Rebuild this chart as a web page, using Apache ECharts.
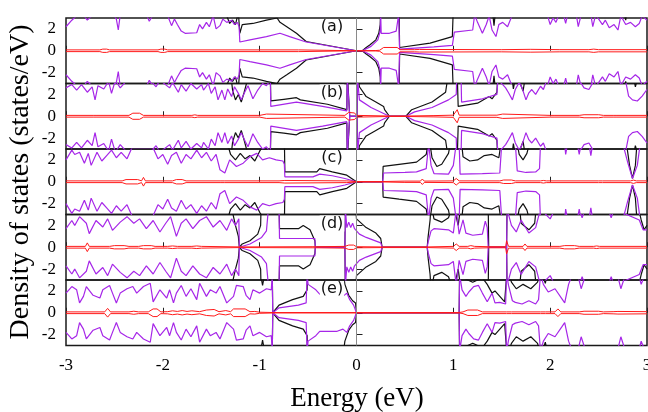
<!DOCTYPE html>
<html>
<head>
<meta charset="utf-8">
<title>DOS panels</title>
<style>
  html, body { margin: 0; padding: 0; background: #fff; }
  #chart { width: 648px; height: 412px; }
</style>
</head>
<body>
<div id="chart"></div>
<script src="https://cdn.jsdelivr.net/npm/echarts@6/dist/echarts.min.js"></script>
<script>
// spin-up halves [energy (eV), DOS]; spin-down is drawn as the mirror image
const A_BLACK = [[-3,4],[-1.4,4],[-1.34,3.2],[-1.31,2.5],[-1.28,2.8],[-1.25,2.4],[-1.22,3.5],[-1.212,3.5],[-1.205,1.6],[-1.18,2.4],[-1.07,2.5],[-0.93,2.8],[-0.82,3.0],[-0.79,2.6],[-0.72,2.2],[-0.62,1.6],[-0.52,0.85],[0,0],[0.06,0],[0.1,0.3],[0.14,0.55],[0.2,1.0],[0.23,1.6],[0.245,2.4],[0.25,4],[0.44,4],[0.445,0.3],[0.76,0.7],[0.99,1.3],[1.0,4],[1.4,4],[1.42,2.3],[1.44,4],[2.75,4],[2.78,2.8],[2.8,4],[3,4]];
const A_PURPLE = [[-3,2.2],[-2.98,2.2],[-2.94,2.8],[-2.89,3.2],[-2.84,3.5],[-2.78,2.8],[-2.72,3.3],[-2.65,3.4],[-2.51,3.3],[-2.48,2.9],[-2.46,1.9],[-2.44,3.3],[-2.17,3.3],[-2.14,2.7],[-2.1,3.3],[-1.95,3.2],[-1.91,2.3],[-1.88,2.9],[-1.85,2.4],[-1.81,1.8],[-1.77,1.6],[-1.65,1.65],[-1.62,2.4],[-1.59,2.0],[-1.55,2.6],[-1.52,2.2],[-1.48,3.2],[-1.45,2.0],[-1.41,2.3],[-1.38,2.9],[-1.34,2.6],[-1.29,2.8],[-1.26,2.4],[-1.23,2.6],[-1.212,2.2],[-1.205,0.8],[-1.1,1.0],[-0.93,1.3],[-0.79,1.6],[-0.69,1.3],[-0.52,0.8],[0,0],[0.06,0],[0.15,0.4],[0.22,1.0],[0.245,1.8],[0.25,3.3],[0.255,1.6],[0.34,1.6],[0.41,1.8],[0.435,3.3],[0.445,0.15],[0.8,0.35],[0.99,0.5],[1.01,1.7],[1.2,1.9],[1.22,3.3],[1.25,2.6],[1.3,1.6],[1.34,2.4],[1.37,3.2],[1.4,1.9],[1.44,1.3],[1.47,2.4],[1.51,2.6],[1.56,2.2],[1.61,3.3],[1.97,3.3],[2.0,2.4],[2.03,3.0],[2.06,2.6],[2.09,3.3],[2.14,3.2],[2.16,2.5],[2.18,3.3],[2.27,3.3],[2.29,2.2],[2.32,3.3],[2.42,3.3],[2.44,2.2],[2.47,3.3],[2.54,2.4],[2.57,2.8],[2.61,2.1],[2.66,2.4],[2.7,1.9],[2.73,3.2],[2.78,2.4],[2.83,2.6],[2.88,2.2],[2.92,2.5],[2.95,3.2],[3,2.8]];
const A_RED = [[-3,0.08],[-2.65,0.08],[-2.62,0.15],[-2.58,0.15],[-2.55,0.08],[-2.05,0.08],[-2.02,0.15],[-1.98,0.15],[-1.95,0.08],[-0.6,0.08],[0,0],[0.2,0.02],[0.24,0.05],[0.28,0.3],[0.42,0.3],[0.45,0.1],[0.6,0.1],[0.65,0.12],[1.5,0.1],[1.8,0.13],[2.1,0.1],[2.4,0.1],[2.45,0.15],[2.5,0.1],[3,0.1]];

const B_BLACK = [[-3,4],[-1.3,4],[-1.28,2.4],[-1.25,1.5],[-1.22,2.0],[-1.19,1.3],[-1.16,2.2],[-1.13,3.2],[-1.1,4],[-0.89,4],[-0.885,1.4],[-0.75,1.55],[-0.62,1.7],[-0.58,1.5],[-0.3,1.1],[-0.1,0.6],[-0.095,4],[-0.075,4],[-0.07,0],[0.005,0],[0.01,4],[0.03,2.7],[0.1,1.8],[0.2,1.3],[0.28,0.9],[0.29,0.6],[0.34,0],[0.51,0],[0.57,0.6],[0.78,1.3],[0.92,2.2],[0.95,4],[1.04,4],[1.05,0.9],[1.25,1.2],[1.37,1.8],[1.4,1.6],[1.45,2.2],[1.46,4],[1.6,4],[1.62,2.5],[1.65,4],[1.72,2.3],[1.75,4],[2.85,4],[2.88,2.7],[2.92,4],[3,4]];
const B_PURPLE = [[-3,2.6],[-2.98,2.6],[-2.94,2.9],[-2.89,2.4],[-2.84,2.9],[-2.78,2.2],[-2.73,2.7],[-2.7,1.5],[-2.67,2.8],[-2.61,2.5],[-2.56,3.2],[-2.53,2.1],[-2.49,3.3],[-2.44,2.6],[-2.37,3.3],[-2.13,3.3],[-2.07,2.7],[-2.03,3.3],[-1.93,2.6],[-1.9,3.1],[-1.84,2.2],[-1.81,2.9],[-1.76,2.3],[-1.71,3.0],[-1.65,2.5],[-1.6,2.9],[-1.58,2.4],[-1.53,3.0],[-1.5,2.1],[-1.46,2.7],[-1.43,1.5],[-1.39,2.4],[-1.36,1.5],[-1.33,2.5],[-1.29,1.8],[-1.26,2.7],[-1.22,2.1],[-1.19,1.5],[-1.15,2.3],[-1.12,2.8],[-1.07,1.6],[-1.02,2.4],[-0.97,3.0],[-0.93,2.8],[-0.89,3.3],[-0.885,0.9],[-0.62,1.3],[-0.35,0.9],[-0.1,0.5],[-0.095,3.5],[-0.075,3.5],[-0.07,0],[0.005,0],[0.01,3.5],[0.03,1.5],[0.15,0.8],[0.34,0],[0.51,0],[0.6,0.4],[0.78,0.8],[0.95,1.5],[1.03,2.0],[1.035,3.5],[1.08,3.5],[1.085,1.3],[1.3,1.6],[1.45,2.0],[1.46,3.3],[1.51,2.9],[1.54,2.6],[1.57,2.15],[1.61,1.5],[1.64,2.45],[1.68,3.1],[1.71,2.6],[1.75,1.5],[1.78,2.15],[1.81,2.45],[1.85,2.0],[1.9,2.75],[1.93,2.45],[1.96,3.2],[2.3,3.3],[2.35,2.6],[2.4,2.45],[2.45,3.2],[2.78,3.2],[2.81,1.85],[2.85,1.5],[2.9,1.4],[2.95,1.85],[3,2.45]];
const B_RED = [[-3,0.08],[-2.72,0.08],[-2.7,0.15],[-2.68,0.08],[-2.35,0.08],[-2.31,0.28],[-2.24,0.28],[-2.2,0.08],[-1.7,0.08],[-1.67,0.13],[-1.64,0.08],[-1.0,0.08],[-0.98,0.2],[-0.93,0.2],[-0.91,0.08],[-0.12,0.08],[-0.08,0.35],[-0.02,0.3],[0,0.08],[0.35,0.02],[0.5,0.02],[0.8,0.06],[1.0,0.1],[1.04,0.6],[1.06,0.1],[1.45,0.1],[1.47,0.2],[1.51,0.2],[1.53,0.1],[2.0,0.08],[2.02,0.15],[2.04,0.08],[2.3,0.08],[2.35,0.14],[2.5,0.14],[2.55,0.08],[2.65,0.08],[2.67,0.15],[2.69,0.08],[3,0.08]];

const C_BLACK = [[-3,4],[-1.35,4],[-1.3,2.5],[-1.25,2.0],[-1.2,2.6],[-1.15,2.1],[-1.1,2.4],[-1.05,1.9],[-1.0,2.8],[-0.95,3.5],[-0.745,4],[-0.74,0.9],[-0.41,0.9],[-0.38,1.2],[-0.25,0.9],[-0.1,0.6],[0,0],[0.27,0],[0.275,1.4],[0.44,1.6],[0.62,1.8],[0.72,2.5],[0.75,4],[0.78,2.2],[0.83,1.4],[0.88,1.6],[0.95,2.6],[0.98,4],[1.08,4],[1.1,2.3],[1.17,1.9],[1.25,2.0],[1.32,2.4],[1.4,2.5],[1.47,2.2],[1.5,4],[1.65,4],[1.68,2.5],[1.72,2.0],[1.76,2.6],[1.8,4],[2.78,4],[2.82,1.5],[2.85,0.3],[2.88,1.5],[2.9,4],[3,4]];
const C_PURPLE = [[-3,2.0],[-2.98,2.0],[-2.94,2.9],[-2.91,2.5],[-2.86,2.7],[-2.81,1.7],[-2.77,2.6],[-2.74,1.5],[-2.68,2.7],[-2.63,1.9],[-2.58,2.4],[-2.53,2.9],[-2.48,2.2],[-2.43,2.7],[-2.37,2.1],[-2.32,3.1],[-2.1,3.1],[-2.05,2.1],[-2.0,2.5],[-1.95,1.6],[-1.91,2.4],[-1.86,2.7],[-1.81,1.7],[-1.76,2.5],[-1.71,2.1],[-1.65,2.9],[-1.6,2.2],[-1.55,2.7],[-1.5,1.9],[-1.45,2.5],[-1.41,1.1],[-1.36,0.8],[-1.31,2.0],[-1.24,1.4],[-1.17,1.7],[-1.1,2.3],[-1.03,2.6],[-0.97,2.0],[-0.9,2.2],[-0.83,2.0],[-0.76,1.9],[-0.745,1.6],[-0.74,0.45],[-0.45,0.45],[-0.38,0.7],[-0.25,0.55],[-0.12,0.3],[0,0],[0.27,0],[0.28,0.8],[0.5,0.85],[0.62,0.9],[0.72,1.2],[0.745,3.5],[0.77,1.5],[0.8,0.75],[0.95,0.7],[1.0,1.5],[1.03,3.5],[1.06,3.5],[1.07,0.7],[1.3,0.75],[1.48,0.8],[1.5,3.5],[1.64,3.5],[1.66,1.0],[1.75,0.85],[1.85,0.9],[1.89,1.2],[1.9,3.5],[2.15,3.5],[2.16,2.5],[2.18,3.5],[2.28,3.5],[2.3,2.5],[2.32,3.5],[2.4,3.5],[2.42,2.4],[2.44,3.5],[2.75,3.5],[2.8,1.8],[2.85,0.3],[2.9,1.5],[2.93,3.5],[3,3.5]];
const C_RED = [[-3,0.08],[-2.42,0.08],[-2.38,0.2],[-2.26,0.2],[-2.22,0.08],[-2.2,0.4],[-2.18,0.08],[-1.9,0.08],[-1.86,0.2],[-1.8,0.2],[-1.76,0.08],[-1.4,0.08],[-1.38,0.12],[-1.36,0.08],[-0.8,0.08],[-0.74,0.12],[-0.1,0.08],[0,0.02],[0.27,0.02],[0.5,0.06],[0.66,0.06],[0.68,0.25],[0.7,0.06],[1.0,0.08],[1.03,0.3],[1.06,0.08],[1.48,0.08],[1.52,0.16],[1.6,0.16],[1.64,0.08],[1.9,0.08],[1.93,0.12],[1.96,0.08],[2.5,0.08],[2.52,0.12],[2.54,0.08],[2.83,0.08],[2.86,0.15],[2.89,0.08],[3,0.08]];

const D_BLACK = [[-3,4],[-1.3,4],[-1.25,2.0],[-1.22,1.0],[-1.21,0],[-1.18,0.3],[-1.1,0.6],[-1.02,1.2],[-0.99,2.0],[-0.985,4],[-0.8,4],[-0.795,1.7],[-0.6,1.7],[-0.55,2.0],[-0.48,1.6],[-0.43,0.6],[-0.425,0],[-0.12,0],[-0.115,4],[-0.01,4],[0,2.6],[0.1,1.8],[0.2,1.3],[0.25,0.8],[0.265,0],[0.73,0],[0.74,1.0],[0.76,2.5],[0.77,4],[0.8,2.6],[0.88,2.3],[0.95,2.7],[1.0,4],[1.05,2.0],[1.08,4],[1.36,4],[1.365,0],[1.55,0],[1.555,4],[1.68,4],[1.7,2.2],[1.78,1.6],[1.84,2.2],[1.86,4],[2.9,4],[2.94,2.5],[2.97,1.6],[3,2.0]];
const D_PURPLE = [[-3,1.7],[-2.98,1.7],[-2.94,2.45],[-2.91,2.0],[-2.86,2.8],[-2.79,2.2],[-2.76,1.25],[-2.69,2.45],[-2.62,1.85],[-2.57,2.6],[-2.52,1.55],[-2.44,2.3],[-2.37,2.8],[-2.3,2.2],[-2.24,2.6],[-2.17,1.7],[-2.1,2.45],[-2.03,1.4],[-1.97,2.2],[-1.92,2.8],[-1.86,1.0],[-1.81,2.2],[-1.76,2.6],[-1.69,1.7],[-1.62,2.45],[-1.55,2.8],[-1.48,1.85],[-1.41,2.45],[-1.34,1.55],[-1.29,2.6],[-1.25,2.0],[-1.215,2.6],[-1.21,0],[-1.1,0.3],[-0.98,0.9],[-0.93,1.5],[-0.91,3.5],[-0.8,3.5],[-0.795,0.8],[-0.43,0.8],[-0.425,0],[-0.12,0],[-0.115,3.5],[-0.1,1.8],[-0.08,2.3],[-0.06,1.8],[-0.04,2.2],[-0.02,1.7],[0.03,1.2],[0.1,0.9],[0.25,0.4],[0.265,0],[0.73,0],[0.74,0.5],[0.77,1.5],[0.8,1.7],[0.95,1.6],[1.0,1.3],[1.03,3.5],[1.06,1.2],[1.1,2.5],[1.13,1.3],[1.2,1.1],[1.3,1.2],[1.33,2.4],[1.35,1.8],[1.36,0],[1.55,0],[1.555,3.5],[1.6,2.0],[1.65,1.4],[1.7,2.5],[1.78,1.3],[1.85,1.8],[1.9,3.5],[2.0,2.6],[2.05,3.5],[2.3,3.5],[2.33,2.7],[2.36,3.5],[2.6,3.5],[2.63,2.7],[2.66,3.5],[2.92,2.5],[2.96,1.6],[3,1.6]];
const D_RED = [[-3,0.08],[-2.8,0.08],[-2.78,0.4],[-2.76,0.08],[-2.55,0.08],[-2.5,0.15],[-2.4,0.15],[-2.35,0.08],[-2.25,0.08],[-2.2,0.15],[-2.12,0.15],[-2.08,0.08],[-1.95,0.08],[-1.9,0.12],[-1.85,0.08],[-1.7,0.08],[-1.65,0.12],[-1.6,0.08],[-1.2,0.03],[-0.45,0.05],[-0.43,0.2],[-0.41,0.05],[-0.12,0.08],[-0.08,0.2],[-0.03,0.2],[0,0.05],[0.27,0.03],[0.73,0.03],[1.0,0.08],[1.03,0.3],[1.06,0.08],[1.15,0.08],[1.18,0.15],[1.22,0.08],[1.36,0.05],[1.54,0.05],[1.55,0.6],[1.57,0.08],[1.72,0.08],[1.74,0.3],[1.76,0.08],[2.1,0.08],[2.15,0.15],[2.25,0.15],[2.3,0.08],[2.45,0.08],[2.48,0.12],[2.51,0.08],[3,0.08]];

const E_BLACK = [[-3,4],[-1.0,4],[-0.97,2.5],[-0.94,4],[-0.87,4],[-0.865,0],[-0.8,0.7],[-0.66,1.2],[-0.55,1.5],[-0.51,2.1],[-0.505,4],[-0.14,4],[-0.12,2.6],[-0.08,1.6],[-0.04,1.1],[-0.01,0.9],[0,0],[1.06,0],[1.065,4],[1.1,3.2],[1.2,2.8],[1.3,3.2],[1.35,2.6],[1.4,1.8],[1.43,2.0],[1.48,1.5],[1.53,1.0],[1.555,4],[1.6,2.8],[1.65,2.2],[1.72,2.6],[1.8,2.2],[1.87,2.8],[1.9,4],[1.95,2.7],[1.98,4],[3,4]];
const E_PURPLE = [[-3,1.8],[-2.98,1.8],[-2.94,2.4],[-2.89,2.1],[-2.86,0.9],[-2.82,1.5],[-2.79,2.4],[-2.72,1.6],[-2.65,1.35],[-2.62,2.1],[-2.55,2.5],[-2.52,1.8],[-2.48,0.9],[-2.44,1.8],[-2.37,2.2],[-2.31,2.4],[-2.27,1.8],[-2.2,2.4],[-2.13,2.7],[-2.1,1.0],[-2.03,2.1],[-1.96,1.35],[-1.93,2.1],[-1.89,0.9],[-1.86,1.8],[-1.81,2.5],[-1.76,1.5],[-1.71,2.2],[-1.65,1.2],[-1.62,2.7],[-1.55,1.5],[-1.51,2.1],[-1.45,1.8],[-1.41,2.4],[-1.34,0.9],[-1.27,1.5],[-1.24,2.5],[-1.17,2.4],[-1.14,1.6],[-1.1,1.2],[-1.07,2.1],[-1.0,1.8],[-0.93,2.2],[-0.88,2.1],[-0.87,3.5],[-0.865,0],[-0.8,0.45],[-0.6,0.7],[-0.52,0.9],[-0.51,3.5],[-0.5,2.6],[-0.42,2.1],[-0.38,1.7],[-0.2,1.7],[-0.14,1.5],[-0.1,1.8],[-0.07,1.2],[-0.03,0.7],[0,0],[1.06,0],[1.065,3.5],[1.09,2.1],[1.13,1.5],[1.16,1.9],[1.21,2.4],[1.26,2.5],[1.3,1.8],[1.35,1.0],[1.4,1.8],[1.43,0.9],[1.48,0.95],[1.54,0.8],[1.55,3.5],[1.57,2.5],[1.61,1.1],[1.64,0.95],[1.71,0.8],[1.78,1.1],[1.85,0.8],[1.88,1.2],[1.9,3.5],[1.93,2.6],[1.98,1.9],[2.05,2.2],[2.12,1.3],[2.15,0.9],[2.19,2.6],[2.22,3.3],[2.29,3.3],[2.32,2.2],[2.36,3.3],[2.7,3.3],[2.73,2.2],[2.77,3.3],[2.92,3.3],[2.94,2.6],[2.97,3.3],[3,3.3]];
const E_RED = [[-3,0.08],[-2.6,0.08],[-2.57,0.4],[-2.54,0.08],[-2.35,0.08],[-2.3,0.14],[-2.25,0.08],[-2.15,0.08],[-2.1,0.35],[-2.06,0.35],[-2.02,0.08],[-1.95,0.1],[-1.9,0.18],[-1.85,0.12],[-1.8,0.2],[-1.75,0.12],[-1.7,0.18],[-1.62,0.1],[-1.55,0.25],[-1.47,0.3],[-1.42,0.1],[-1.35,0.2],[-1.3,0.1],[-1.27,0.35],[-1.15,0.35],[-1.1,0.1],[-1.05,0.12],[-1.0,0.05],[-0.86,0.02],[0,0.02],[1.06,0.02],[1.1,0.08],[1.15,0.25],[1.25,0.25],[1.3,0.08],[1.55,0.08],[1.57,0.15],[1.6,0.08],[1.9,0.08],[1.92,0.12],[1.95,0.08],[2.05,0.08],[2.08,0.35],[2.11,0.08],[2.3,0.08],[2.35,0.14],[2.5,0.14],[2.55,0.08],[2.65,0.1],[2.7,0.12],[3,0.1]];

const PANEL_LABELS = ['(a)', '(b)', '(c)', '(d)', '(e)'];
const Y_TICKS = [-2, 0, 2];

const PANELS = [
	[A_BLACK, A_PURPLE, A_RED],
	[B_BLACK, B_PURPLE, B_RED],
	[C_BLACK, C_PURPLE, C_RED],
	[D_BLACK, D_PURPLE, D_RED],
	[E_BLACK, E_PURPLE, E_RED]
];

const TOPS = [18, 83.5, 149, 214.5, 280];
const PANEL_H = 65.5;
const SERIF = 'Liberation Serif';
const PURPLE = '#a626e8';

function mirror(d) {
	return d.map(p => [p[0], -p[1]]);
}

function curve(i, data, color, width, z) {
	return {
		type: 'line',
		xAxisIndex: i,
		yAxisIndex: i,
		data: data,
		symbol: 'none',
		showSymbol: false,
		clip: true,
		silent: true,
		z: z,
		lineStyle: { color: color, width: width },
		itemStyle: { color: color }
	};
}

let grids = [], xAxes = [], yAxes = [], series = [], graphics = [];

PANELS.forEach((p, i) => {
	grids.push({
		left: 66, width: 581, top: TOPS[i], height: PANEL_H,
		outerBoundsMode: 'none', containLabel: false,
		show: true, borderColor: '#1a1a1a', borderWidth: 1.5, backgroundColor: 'transparent'
	});
	xAxes.push({
		type: 'value', gridIndex: i, min: -3, max: 3, interval: 1,
		axisLine: { show: false },
		splitLine: { show: false },
		axisTick: { show: true, inside: true, length: 5, lineStyle: { color: '#222', width: 1 } },
		axisLabel: {
			show: i === 4, margin: 12, color: '#000', fontSize: 17, fontFamily: SERIF,
			showMinLabel: true, showMaxLabel: true, hideOverlap: false
		}
	});
	yAxes.push({
		type: 'value', gridIndex: i, min: -3, max: 3,
		axisLine: { show: false },
		splitLine: { show: false },
		axisTick: { show: true, inside: true, length: 6, customValues: Y_TICKS, lineStyle: { color: '#222', width: 1 } },
		axisLabel: { show: true, customValues: Y_TICKS, margin: 10, color: '#000', fontSize: 17, fontFamily: SERIF }
	});

	let blackUp = curve(i, p[0], '#111', 1.2, 2);
	blackUp.markLine = {
		silent: true, symbol: 'none', animation: false,
		label: { show: false },
		lineStyle: { color: '#8a8a8a', width: 1, type: 'solid' },
		data: [{ xAxis: 0 }]
	};
	series.push(blackUp);
	series.push(curve(i, mirror(p[0]), '#111', 1.2, 2));
	series.push(curve(i, p[1], PURPLE, 1.2, 3));
	series.push(curve(i, mirror(p[1]), PURPLE, 1.2, 3));
	series.push(curve(i, p[2], '#ff1a1a', 1, 4));
	series.push(curve(i, mirror(p[2]), '#ff1a1a', 1, 4));

	graphics.push({
		type: 'text', x: 332, y: TOPS[i] + 9, z: 100,
		style: {
			text: PANEL_LABELS[i], font: '16px "DejaVu Sans"', fill: '#111',
			textAlign: 'center', textVerticalAlign: 'middle',
			backgroundColor: '#fff', padding: [0, 1]
		}
	});
});

graphics.push({
	type: 'text', x: 357, y: 399, z: 100,
	style: {
		text: 'Energy (eV)', font: '27px "Liberation Serif"', fill: '#000',
		textAlign: 'center', textVerticalAlign: 'middle'
	}
});
graphics.push({
	type: 'text', x: 21, y: 182, rotation: Math.PI / 2, z: 100,
	style: {
		text: 'Density of states (states/eV)', font: '28px "Liberation Serif"', fill: '#000',
		textAlign: 'center', textVerticalAlign: 'middle'
	}
});

const chart = echarts.init(document.getElementById('chart'), null, { renderer: 'canvas' });
chart.setOption({
	animation: false,
	backgroundColor: '#fff',
	grid: grids,
	xAxis: xAxes,
	yAxis: yAxes,
	series: series,
	graphic: graphics
});
</script>
</body>
</html>
